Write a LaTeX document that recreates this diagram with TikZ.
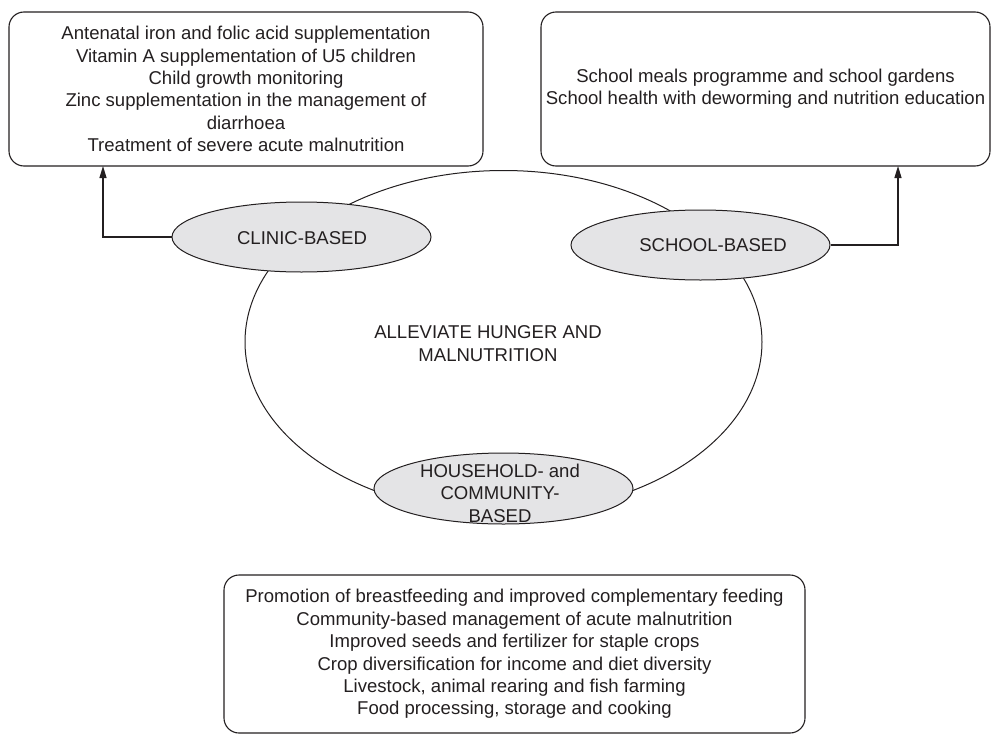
\documentclass[tikz,border=0pt]{standalone}
\usepackage{fontspec}
\setmainfont{Liberation Sans}
\usetikzlibrary{shapes.geometric,arrows.meta}
\definecolor{ink}{RGB}{35,31,32}
\definecolor{ovalfill}{RGB}{228,228,230}
\begin{document}
\begin{tikzpicture}[x=1pt,y=-1pt,
  every node/.style={text=ink,font=\fontsize{18.55}{22.4}\selectfont},
  listbox/.style={draw=ink,line width=1.1pt,rounded corners=15pt,inner sep=0pt,align=center},
  oval/.style={ellipse,draw=ink,line width=1pt,fill=ovalfill,inner sep=0pt},
  bigoval/.style={ellipse,draw=ink,line width=1pt,inner sep=0pt},
  lbl/.style={align=center,inner sep=0pt},
  link/.style={draw=ink,line width=1.2pt,-{Triangle[length=12pt,width=7pt]}}]
\useasboundingbox (0,0) rectangle (991,736);
% boxes
\node[listbox,minimum width=474pt,minimum height=154pt] (clinicbox) at (246,89)
  {Antenatal iron and folic acid supplementation\\
   Vitamin A supplementation of U5 children\\
   Child growth monitoring\\
   Zinc supplementation in the management of\\
   diarrhoea\\
   Treatment of severe acute malnutrition};
\node[listbox,minimum width=449pt,minimum height=154pt] (schoolbox) at (765.5,89)
  {School meals programme and school gardens\\
   School health with deworming and nutrition education};
\node[listbox,minimum width=581pt,minimum height=158pt] (homebox) at (514.5,654)
  {Promotion of breastfeeding and improved complementary feeding\\
   Community-based management of acute malnutrition\\
   Improved seeds and fertilizer for staple crops\\
   Crop diversification for income and diet diversity\\
   Livestock, animal rearing and fish farming\\
   Food processing, storage and cooking};
% central ellipse
\node[bigoval,minimum width=517pt,minimum height=343pt] (goal) at (503.5,342) {};
\node[lbl] (goaltext) at (488,343.5) {ALLEVIATE HUNGER AND\\MALNUTRITION};
% small ellipses
\node[oval,minimum width=259pt,minimum height=70pt] (clinic) at (301.5,237) {};
\node[lbl] (clinictext) at (302,238) {CLINIC-BASED};
\node[oval,minimum width=259pt,minimum height=70pt] (school) at (700.5,245) {};
\node[lbl] (schooltext) at (713,245) {SCHOOL-BASED};
\node[oval,minimum width=259pt,minimum height=71pt] (home) at (503.5,488.5) {};
\node[lbl] (hometext) at (500,493) {HOUSEHOLD- and\\COMMUNITY-\\BASED};
% connectors
\coordinate (ca) at (103,166);
\coordinate (sa) at (898,166);
\draw[link] (clinic.west) -| (ca);
\draw[link] (school.east) -| (sa);
\end{tikzpicture}
\end{document}
